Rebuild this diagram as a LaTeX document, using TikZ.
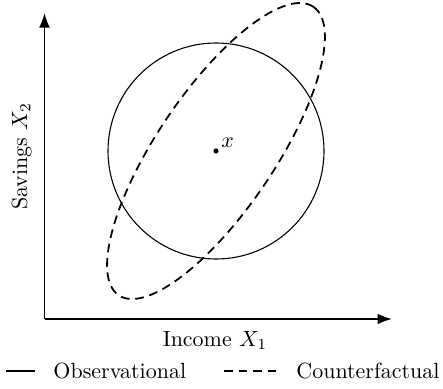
\documentclass[tikz,border=0pt]{standalone}
\usetikzlibrary{arrows.meta}
\begin{document}
\begin{tikzpicture}[x=0.455pt,y=-0.455pt,
  axis/.style={thick,-{Latex}},
  obsline/.style={line width=0.5pt},
  cfline/.style={thick,dash pattern=on 4pt off 2.6pt},
  lbl/.style={inner sep=0pt}]
\useasboundingbox (0,0) rectangle (443,388);
\coordinate (o) at (44.5,319);
\coordinate (ytop) at (44.5,13);
\coordinate (xend) at (392,319);
\draw[axis] (o) -- (ytop);
\draw[axis] (o) -- (xend);
\coordinate (c) at (216,151);
\draw[obsline] (c) circle[radius=108];
\draw[cfline, rotate around={56:(c)}] (c) ellipse[x radius=174, y radius=59];
\fill (c) circle[radius=2.6];
\node[lbl, anchor=base west] (xl) at (221,147) {$x$};
\node[lbl, anchor=base] (xlab) at (215,346) {Income $X_1$};
\node[lbl, rotate=90, anchor=base] (ylab) at (27,156) {Savings $X_2$};
\coordinate (l1a) at (6,371);
\coordinate (l1b) at (35,371);
\draw[thick] (l1a) -- (l1b);
\node[lbl, anchor=base west] (obs) at (53,378) {Observational};
\coordinate (l2a) at (224,371);
\coordinate (l2b) at (277,371);
\draw[cfline] (l2a) -- (l2b);
\node[lbl, anchor=base west] (cf) at (296,378) {Counterfactual};
\end{tikzpicture}
\end{document}
